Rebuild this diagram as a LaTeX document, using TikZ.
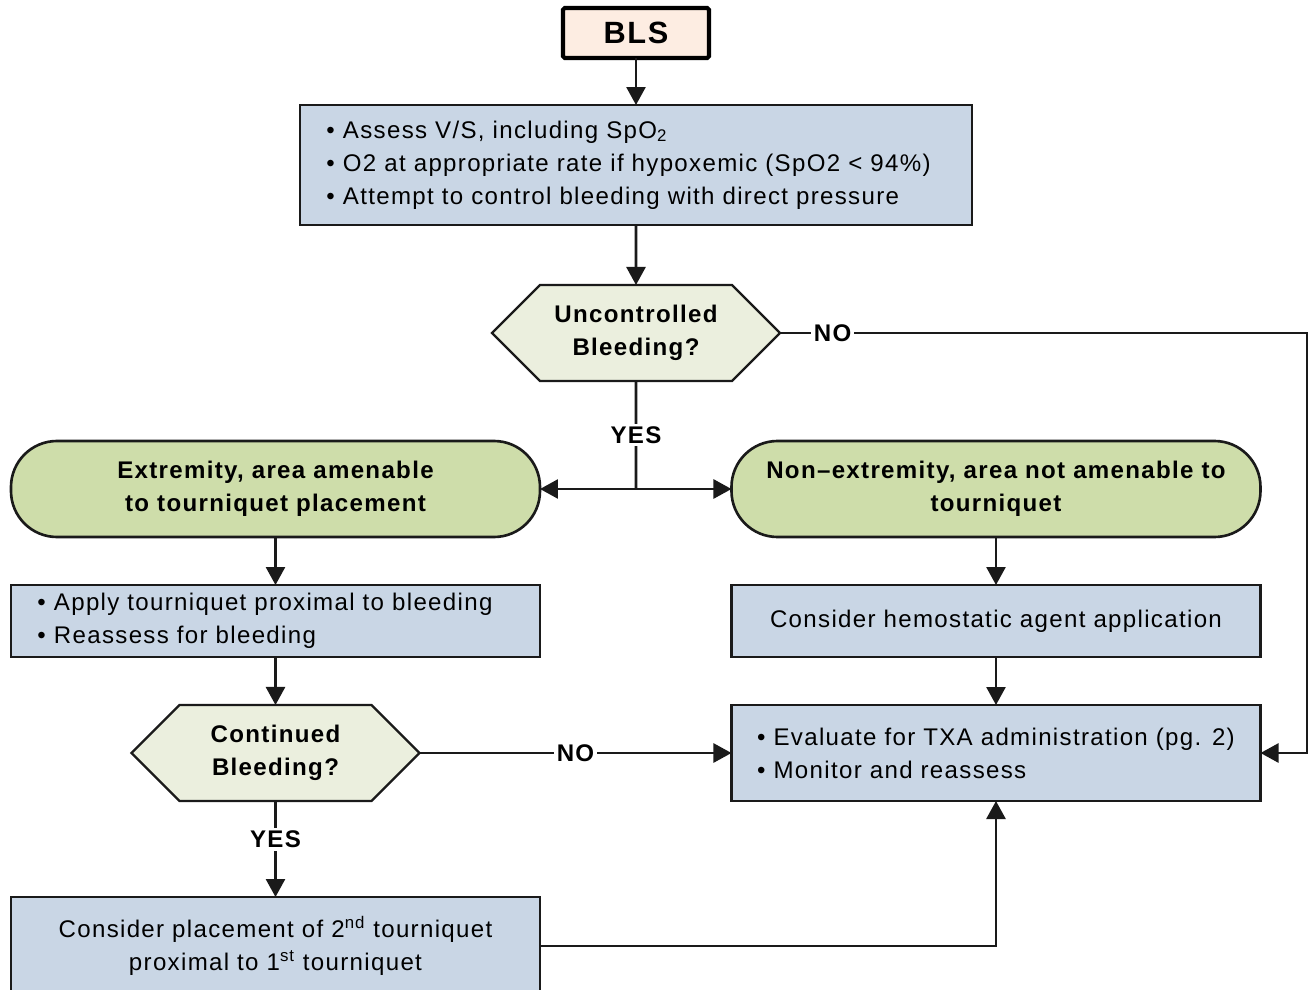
\documentclass[tikz,border=0pt]{standalone}
\usepackage{fontspec}
\setmainfont[LetterSpace=5.5]{Liberation Sans}
\usetikzlibrary{shapes.symbols, shapes.geometric, arrows.meta, positioning}

\definecolor{blsfill}{RGB}{253,237,226}
\definecolor{boxfill}{RGB}{201,214,229}
\definecolor{hexfill}{RGB}{235,239,222}
\definecolor{termfill}{RGB}{206,221,170}
\definecolor{edge}{RGB}{26,26,26}

\newcommand{\bodyfont}{\fontsize{13.7}{18.8}\selectfont}

\tikzstyle{startbox} = [rectangle, rounded corners=1pt, minimum width=2.92cm, minimum height=1cm, draw=black, line width=2.4pt, outer sep=0pt, fill=blsfill, font=\fontsize{17.5}{20}\selectfont\bfseries]
\tikzstyle{infobox} = [rectangle, draw=edge, line width=1.3pt, outer sep=0pt, fill=boxfill, align=left, inner xsep=0.53cm, font=\bodyfont]
\tikzstyle{plainbox} = [rectangle, draw=edge, line width=1.3pt, outer sep=0pt, fill=boxfill, align=center, minimum width=10.58cm, font=\bodyfont]
\tikzstyle{decision} = [signal, signal to=east and west, draw=edge, line width=1.3pt, outer sep=0pt, fill=hexfill, minimum width=5.76cm, minimum height=1.92cm, align=center, font=\bodyfont\bfseries]
\tikzstyle{terminal} = [rectangle, rounded corners=0.92cm, draw=edge, line width=1.5pt, outer sep=0pt, fill=termfill, minimum width=10.58cm, minimum height=1.92cm, align=center, font=\bodyfont\bfseries]
\tikzstyle{answer} = [fill=white, inner sep=1.5pt, font=\bodyfont\bfseries]
\tikzstyle{arrow} = [line width=1.5pt, draw=edge, -{Triangle[length=0.36cm, width=0.38cm]}]
\tikzstyle{line} = [line width=1.5pt, draw=edge]

\begin{document}
\begin{tikzpicture}
\useasboundingbox (-12.72,0.66) rectangle (13.48,-19.14);

\node (bls) [startbox] at (0,0) {BLS};
\node (assess) [infobox, text width=12.38cm, minimum height=2.4cm, below=0.94cm of bls] {\textbullet\ Assess V/S, including SpO\textsubscript{2}\\ \textbullet\ O2 at appropriate rate if hypoxemic (SpO2 < 94\%)\\ \textbullet\ Attempt to control bleeding with direct pressure};
\node (unctrl) [decision, below=1.2cm of assess] {Uncontrolled\\Bleeding?};

\node (extr) [terminal] at (-7.21,-9.12) {Extremity, area amenable\\to tourniquet placement};
\node (nonextr) [terminal] at (7.2,-9.12) {Non–extremity, area not amenable to\\tourniquet};

\node (apply) [infobox, text width=9.52cm, minimum height=1.44cm, below=0.96cm of extr] {\textbullet\ Apply tourniquet proximal to bleeding\\ \textbullet\ Reassess for bleeding};
\node (contbl) [decision, below=0.96cm of apply] {Continued\\Bleeding?};
\node (tq2) [plainbox, minimum height=1.96cm, below=1.92cm of contbl] {Consider placement of 2\textsuperscript{nd} tourniquet\\proximal to 1\textsuperscript{st} tourniquet};

\node (hemo) [plainbox, minimum height=1.44cm, below=0.96cm of nonextr] {Consider hemostatic agent application};
\node (txa) [infobox, inner xsep=0.3cm, minimum width=10.58cm, minimum height=1.92cm, below=0.96cm of hemo] {\textbullet\ Evaluate for TXA administration (pg. 2)\\ \textbullet\ Monitor and reassess};

\coordinate (split) at (unctrl.south |- extr.east);
\coordinate (rtop) at ([xshift=10.54cm]unctrl.east);

\draw [arrow] (bls) -- (assess);
\draw [arrow] (assess) -- (unctrl);
\draw [line] (unctrl) -- node[answer] {YES} (split);
\draw [arrow] (split) -- (extr);
\draw [arrow] (split) -- (nonextr);
\draw [arrow] (unctrl.east) -- node[answer, pos=0.1] {NO} (rtop) |- (txa.east);

\draw [arrow] (extr) -- (apply);
\draw [arrow] (apply) -- (contbl);
\draw [arrow] (contbl) -- node[answer, pos=0.4] {YES} (tq2);
\draw [arrow] (contbl.east) -- node[answer] {NO} (txa.west);

\draw [arrow] (nonextr) -- (hemo);
\draw [arrow] (hemo) -- (txa);
\draw [arrow] (tq2.east) -| (txa.south);
\end{tikzpicture}
\end{document}
